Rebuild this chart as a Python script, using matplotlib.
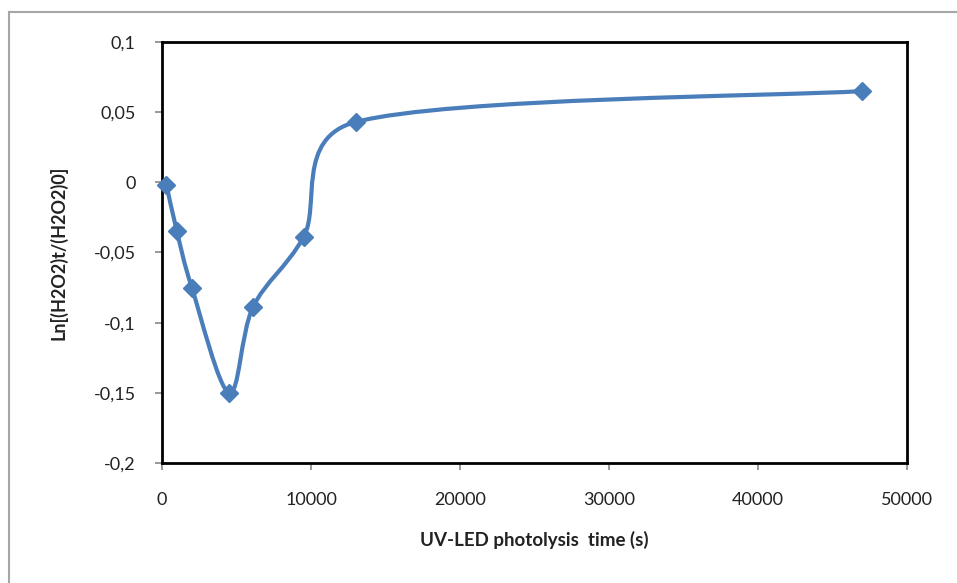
import numpy as np
import matplotlib
matplotlib.use("Agg")
import matplotlib.pyplot as plt
from matplotlib.lines import Line2D
from matplotlib.path import Path
from matplotlib.patches import PathPatch

# Data
time_s = [300, 1000, 2000, 4500, 6100, 9500, 13000, 47000]
ln_ratio = [-0.002, -0.035, -0.075, -0.150, -0.089, -0.039, 0.043, 0.065]
x_ticks = [0, 10000, 20000, 30000, 40000, 50000]
y_ticks = [-0.2, -0.15, -0.1, -0.05, 0, 0.05, 0.1]
y_tick_labels = ["-0,2", "-0,15", "-0,1", "-0,05", "0", "0,05", "0,1"]

line_color = "#4A7EBB"
plt.rcParams['font.family'] = ['Lato', 'DejaVu Sans']

fig = plt.figure(figsize=(9.57, 5.83), dpi=100)
ax = fig.add_axes([0.1693, 0.2058, 0.7785, 0.7222])
ax.set_xlim(0, 50000)
ax.set_ylim(-0.2, 0.1)

# Excel-style smoothing in display-proportional space
W, H = 745.0, 421.0
xs = np.array(time_s) / 50000 * W
ys = (np.array(ln_ratio) + 0.2) / 0.3 * H
n = len(xs)
verts = [(xs[0], ys[0])]
codes = [Path.MOVETO]
for i in range(n - 1):
    p0 = np.array([xs[max(i - 1, 0)], ys[max(i - 1, 0)]])
    p1 = np.array([xs[i], ys[i]])
    p2 = np.array([xs[i + 1], ys[i + 1]])
    p3 = np.array([xs[min(i + 2, n - 1)], ys[min(i + 2, n - 1)]])
    seg = np.linalg.norm(p2 - p1)
    d1 = (p2 - p0) / 6
    d2 = (p3 - p1) / 6
    l1, l2 = np.linalg.norm(d1), np.linalg.norm(d2)
    lim = seg * 0.5
    if l1 > lim:
        d1 = d1 * lim / l1
    if l2 > lim:
        d2 = d2 * lim / l2
    c1 = p1 + d1
    c2 = p2 - d2
    verts += [tuple(c1), tuple(c2), tuple(p2)]
    codes += [Path.CURVE4] * 3
verts = np.array(verts)
verts_data = np.column_stack([verts[:, 0] / W * 50000, verts[:, 1] / H * 0.3 - 0.2])
path = Path(verts_data, codes)
ax.add_patch(PathPatch(path, facecolor='none', edgecolor=line_color, lw=3.0,
                       capstyle='round', joinstyle='round', zorder=3))
ax.plot(time_s, ln_ratio, linestyle='none', marker='D', markersize=9,
        color=line_color, zorder=4, clip_on=False)

for s in ax.spines.values():
    s.set_linewidth(2.0)
    s.set_color('black')

ax.set_xticks(x_ticks)
ax.set_xticklabels([str(v) for v in x_ticks])
ax.set_yticks(y_ticks)
ax.set_yticklabels(y_tick_labels)
ax.tick_params(axis='both', direction='out', length=5, width=1.2, color='#888888',
               labelsize=13, labelcolor='#222222')
ax.tick_params(axis='x', pad=16)
ax.tick_params(axis='y', pad=14)

ax.set_xlabel("UV-LED photolysis  time (s)", fontsize=13.5, fontweight='bold',
              color='#222222', labelpad=16)
ax.set_ylabel("Ln[(H2O2)t/(H2O2)0]", fontsize=13, fontweight='bold',
              color='#222222', labelpad=19)

# outer chart border
fig.add_artist(Line2D([9/957, 9/957], [0, 1 - 12/583], transform=fig.transFigure,
                      color='#A6A6A6', lw=1.5))
fig.add_artist(Line2D([9/957, 1], [1 - 12/583, 1 - 12/583], transform=fig.transFigure,
                      color='#A6A6A6', lw=1.5))

fig.savefig("out.png", dpi=100)
